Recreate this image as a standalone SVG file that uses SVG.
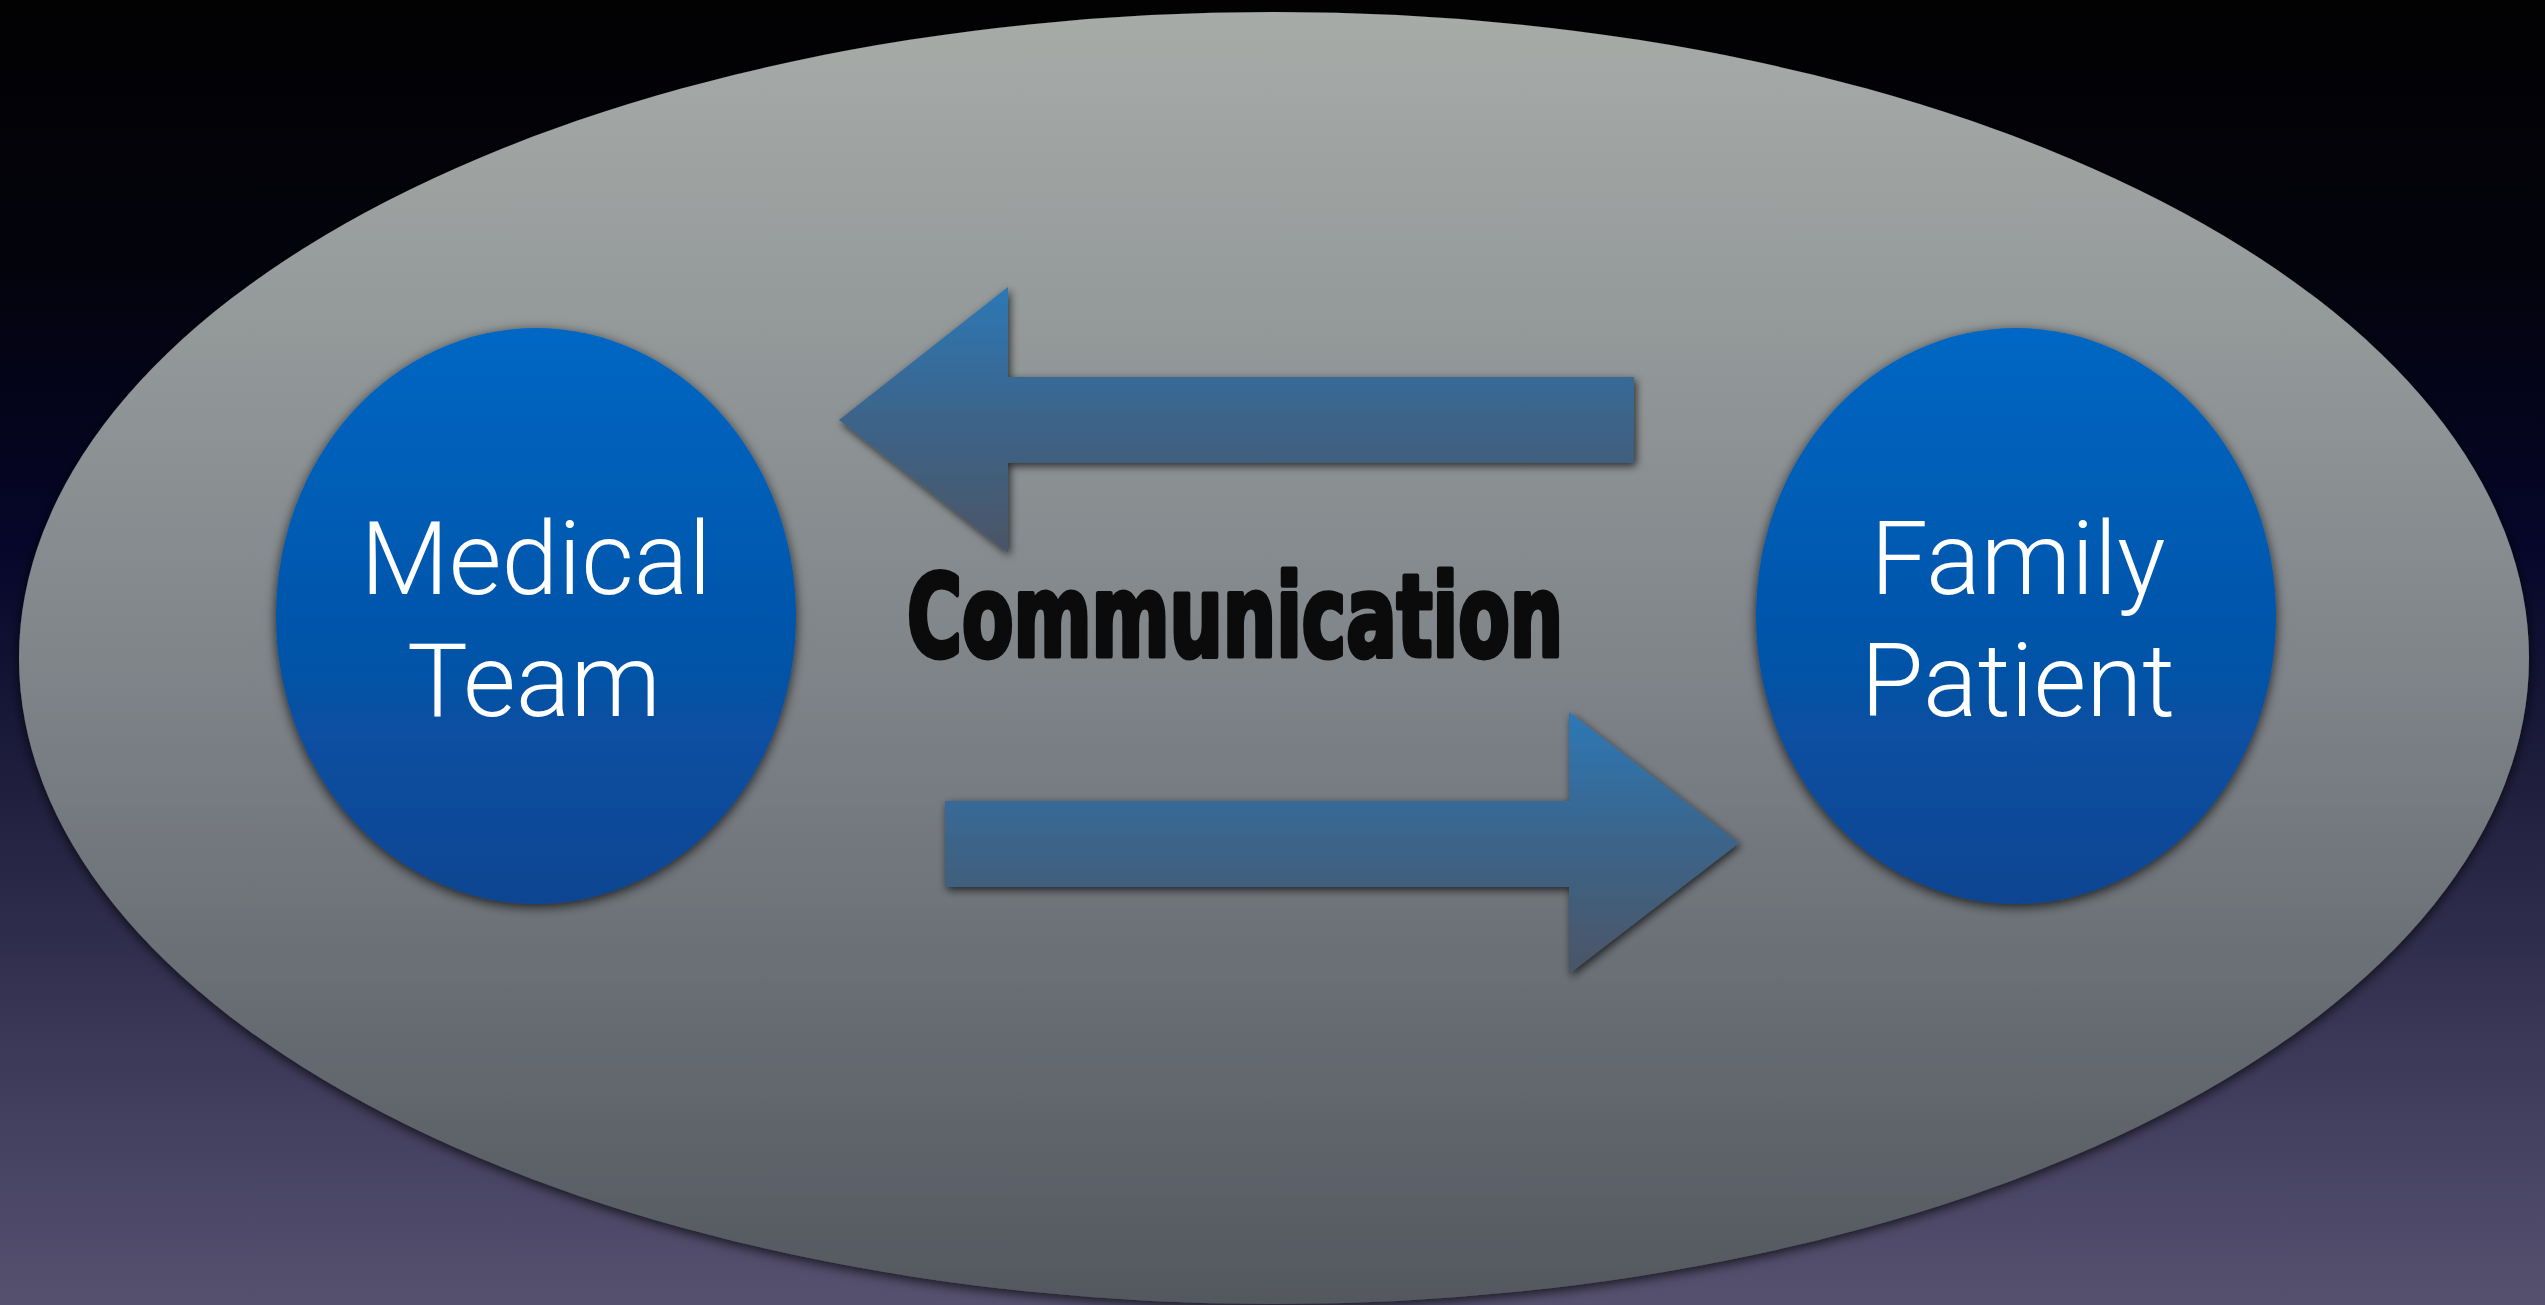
<svg xmlns="http://www.w3.org/2000/svg" width="2545" height="1305" viewBox="0 0 2545 1305">
  <defs>
    <linearGradient id="bg" x1="0" y1="0" x2="0" y2="1">
      <stop offset="0" stop-color="#020203"/>
      <stop offset="0.2" stop-color="#03030c"/>
      <stop offset="0.42" stop-color="#06062a"/>
      <stop offset="0.62" stop-color="#22213f"/>
      <stop offset="0.82" stop-color="#3e3a5a"/>
      <stop offset="1" stop-color="#56516f"/>
    </linearGradient>
    <linearGradient id="stage" x1="0" y1="0" x2="0" y2="1">
      <stop offset="0" stop-color="#a7aba8"/>
      <stop offset="0.5" stop-color="#80858a"/>
      <stop offset="1" stop-color="#53585f"/>
    </linearGradient>
    <linearGradient id="blue" x1="0" y1="0" x2="0" y2="1">
      <stop offset="0" stop-color="#0067c4"/>
      <stop offset="1" stop-color="#0a4592"/>
    </linearGradient>
    <linearGradient id="arrowFill" x1="0" y1="0" x2="0" y2="1">
      <stop offset="0" stop-color="#2c78b6"/>
      <stop offset="0.5" stop-color="#3c6489"/>
      <stop offset="1" stop-color="#4b5566"/>
    </linearGradient>
    <filter id="softShadow" x="-10%" y="-10%" width="120%" height="125%">
      <feGaussianBlur in="SourceAlpha" stdDeviation="6"/>
      <feOffset dx="0" dy="3" result="b"/>
      <feFlood flood-color="#000" flood-opacity="0.75"/>
      <feComposite in2="b" operator="in"/>
      <feMerge><feMergeNode/><feMergeNode in="SourceGraphic"/></feMerge>
    </filter>
    <filter id="arrowShadow" x="-10%" y="-20%" width="120%" height="140%">
      <feGaussianBlur in="SourceAlpha" stdDeviation="4"/>
      <feOffset dx="2" dy="3" result="b"/>
      <feFlood flood-color="#000" flood-opacity="0.7"/>
      <feComposite in2="b" operator="in"/>
      <feMerge><feMergeNode/><feMergeNode in="SourceGraphic"/></feMerge>
    </filter>
    <style>
      .label { font-family: Roboto, "Liberation Sans", sans-serif; font-weight: 300; font-size: 102px; fill: #ffffff; text-anchor: middle; }
      .comm { font-family: "DejaVu Sans", "Liberation Sans", sans-serif; font-weight: bold; font-stretch: condensed; font-size: 114px; fill: #0b0b0b; stroke: #0b0b0b; stroke-width: 5; stroke-linejoin: round; }
      .node-shape { fill: url(#blue); filter: url(#softShadow); }
      .arrow { fill: url(#arrowFill); filter: url(#arrowShadow); }
    </style>
  </defs>

  <!-- backdrop -->
  <rect x="0" y="0" width="2545" height="1305" fill="url(#bg)"/>

  <!-- large grey oval holding the exchange -->
  <ellipse cx="1274" cy="658" rx="1255" ry="646" fill="url(#stage)" filter="url(#softShadow)"/>

  <!-- connectors: two opposing arrows -->
  <g id="connectors">
    <path class="arrow" d="M839,420 L1008,287 L1008,377 L1634,377 L1634,463 L1008,463 L1008,553 Z"/>
    <path class="arrow" d="M945,801 L1569,801 L1569,712 L1739,843 L1569,974 L1569,887 L945,887 Z"/>
  </g>

  <g id="communication-label">
    <text class="comm" x="907" y="656" textLength="656" lengthAdjust="spacingAndGlyphs">Communication</text>
  </g>

  <g id="medical-team">
    <ellipse class="node-shape" cx="536" cy="616" rx="260" ry="288"/>
    <text class="label" x="536" y="594">Medical</text>
    <text class="label" x="534" y="716">Team</text>
  </g>

  <g id="family-patient">
    <ellipse class="node-shape" cx="2016" cy="616" rx="260" ry="288"/>
    <text class="label" x="2018" y="594">Family</text>
    <text class="label" x="2018" y="716">Patient</text>
  </g>
</svg>
